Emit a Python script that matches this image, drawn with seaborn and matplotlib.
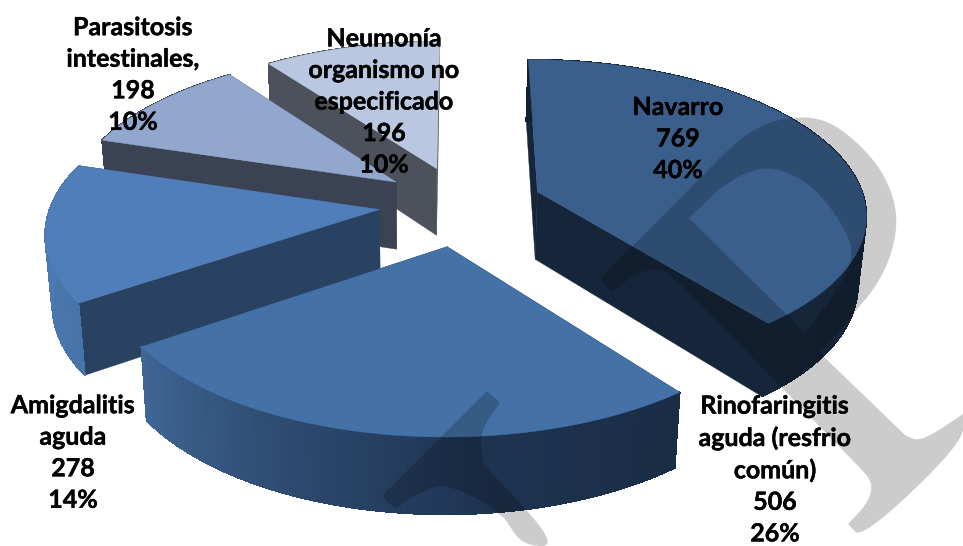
import numpy as np
import seaborn as sns
from matplotlib import pyplot as plt
from matplotlib import patheffects
from matplotlib.collections import PolyCollection
from matplotlib.path import Path
from matplotlib.patches import PathPatch

categories = ['Navarro', 'Rinofaringitis\naguda (resfrio\ncomún)', 'Amigdalitis\naguda',
              'Parasitosis\nintestinales,', 'Neumonía\norganismo no\nespecificado']
values = [769, 506, 278, 198, 196]
percents = [40, 26, 14, 10, 10]

explode = [0.2469, 0.2747, 0.2523, 0.2497, 0.2491]
top_colors = ['#3A5F8C', '#4472A6', '#4F7EB8', '#92A7CE', '#B9C7E0']
cut_colors = ['#16263A', '#1B2E46', '#2A4262', '#3B4254', '#4C515C']
rim_colors = [('#12202F', '#16263A'), ('#1B2D45', '#1D3350', '#2E4A70', '#3F6694'),
              ('#4774A8', '#4F7EB8'), ('#3B4254', '#3B4254'), ('#4C515C', '#4C515C', '#4C515C', '#8F98A8')]
label_pos = [(678, 139), (775, 470), (73, 453), (133, 75), (384, 102)]

# camera of the 3d pie: plane to picture, depth of the slab
cam = [330.6234, 44.8445, 461.6123, -5.9136, -125.5524, 203.7857, 0.0064, 0.132]
start_angle = 0.048
depth = 68
shrink = 0.019
vanish_x = 420

# watermark outline, each run is rounded between its ends
mark_outer = [
    [(600, 279), (725, 153)],
    [(725, 153), (745, 135), (770, 122), (790, 118), (808, 117), (830, 122), (855, 140), (878, 165),
     (892, 192), (897, 217), (895, 240), (887, 266), (872, 292), (857, 309), (835, 337), (820, 353)],
    [(820, 353), (905, 435)],
    [(905, 435), (917, 441), (935, 433), (963, 414)],
    [(963, 414), (963, 443), (862, 539), (848, 524)],
    [(848, 524), (866, 505), (872, 490), (870, 479), (860, 468)],
    [(860, 468), (680, 283)],
    [(680, 283), (663, 270), (653, 269), (635, 274), (612, 292)],
    [(612, 292), (600, 279)]]
mark_hole = [
    [(689, 218), (718, 190)],
    [(718, 190), (742, 174), (767, 167), (790, 173), (813, 187), (835, 213), (850, 240), (852, 255),
     (847, 273), (830, 300), (805, 333)],
    [(805, 333), (689, 218)]]
mark_low = [
    [(382, 496), (487, 391), (500, 403)],
    [(500, 403), (484, 425), (480, 445), (484, 465)],
    [(484, 465), (560, 546), (523, 546), (505, 519)],
    [(505, 519), (488, 505), (467, 493), (440, 484), (415, 495), (395, 509)],
    [(395, 509), (382, 496)]]


def top_xy(X, Y):
    w = cam[6]*X + cam[7]*Y + 1
    return (cam[0]*X + cam[1]*Y + cam[2]) / w, (cam[3]*X + cam[4]*Y + cam[5]) / w


def bottom_xy(X, Y):
    x, y = top_xy(X, Y)
    w = cam[6]*X + cam[7]*Y + 1
    return x + (vanish_x - x)*shrink, y + depth / w**0.7


def chaikin(run, n=3):
    pts = np.array(run, float)
    if len(pts) < 4:
        return pts
    for _ in range(n):
        q = 0.75*pts[:-1] + 0.25*pts[1:]
        r = 0.25*pts[:-1] + 0.75*pts[1:]
        mid = np.empty((2*len(q), 2))
        mid[0::2], mid[1::2] = q, r
        pts = np.vstack([pts[0], mid, pts[-1]])
    return pts


def closed_path(runs, flip=False):
    pts = np.vstack([chaikin(r) for r in runs])
    if flip:
        pts = pts[::-1]
    pts = np.vstack([pts, pts[0]])
    codes = [Path.MOVETO] + [Path.LINETO]*(len(pts) - 2) + [Path.CLOSEPOLY]
    return pts, codes


def main():
    sns.set_theme(style='white')
    plt.rcParams['font.family'] = ['Lato', 'DejaVu Sans']
    fig = plt.figure(figsize=(9.63, 5.46), dpi=100)
    ax = fig.add_axes([0, 0, 1, 1])
    ax.set_xlim(0, 963)
    ax.set_ylim(546, 0)
    ax.axis('off')

    fr = np.array(values) / sum(values) * 2 * np.pi
    edges = np.concatenate([[0], np.cumsum(fr)]) + start_angle

    # far slices first
    for i in [4, 3, 0, 2, 1]:
        a, b = edges[i], edges[i + 1]
        m = (a + b) / 2
        ox, oy = explode[i]*np.sin(m), explode[i]*np.cos(m)
        th = np.linspace(a, b, 121)
        X, Y = ox + np.sin(th), oy + np.cos(th)
        tx, ty = top_xy(X, Y)
        bx, by = bottom_xy(X, Y)
        ax0, ay0 = top_xy(ox, oy)
        bx0, by0 = bottom_xy(ox, oy)

        # the two cut faces, then the rim, then the lid
        for e in [0, -1]:
            ax.fill([ax0, tx[e], bx[e], bx0], [ay0, ty[e], by[e], by0], color=cut_colors[i], lw=0.3, zorder=1)

        pal = sns.blend_palette(rim_colors[i], n_colors=len(th) - 1)
        quads = [[(tx[k], ty[k]), (tx[k + 1], ty[k + 1]), (bx[k + 1], by[k + 1]), (bx[k], by[k])]
                 for k in range(len(th) - 1)]
        ax.add_collection(PolyCollection(quads, facecolors=pal, edgecolors=pal, linewidths=0.6,
                                         antialiaseds=False, zorder=1))

        ax.fill(np.r_[ax0, tx], np.r_[ay0, ty], color=top_colors[i], lw=0.3, zorder=1)

    # watermark darkens whatever is under it
    p1, c1 = closed_path(mark_outer)
    p2, c2 = closed_path(mark_hole, flip=True)
    p3, c3 = closed_path(mark_low)
    path = Path(np.vstack([p1, p2, p3]), c1 + c2 + c3)
    ax.add_patch(PathPatch(path, facecolor='black', edgecolor='none', alpha=0.2, zorder=2))

    for i in range(5):
        t = ax.text(label_pos[i][0], label_pos[i][1], f'{categories[i]}\n{values[i]}\n{percents[i]}%',
                    ha='center', va='center', ma='center', fontsize=18, fontweight='bold',
                    color='black', linespacing=1.45, zorder=3)
        t.set_path_effects([patheffects.withStroke(linewidth=0.3, foreground='black')])

    fig.savefig('out.png', dpi=100)


if __name__ == '__main__':
    main()
